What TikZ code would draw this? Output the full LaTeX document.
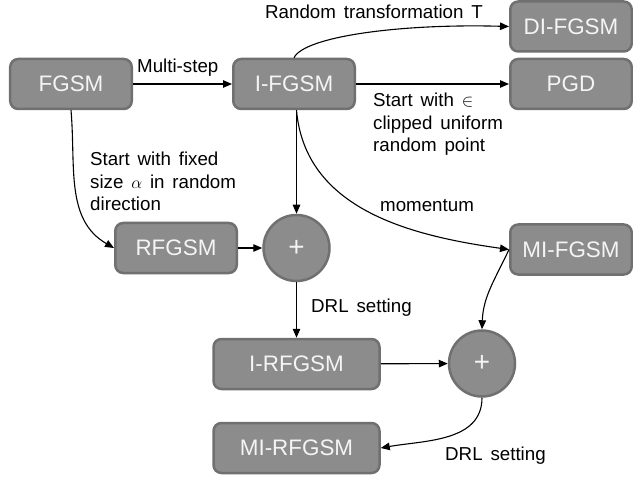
\documentclass[tikz,border=0pt]{standalone}
\usepackage{fontspec}
\setmainfont{Liberation Sans}
\usetikzlibrary{arrows.meta}
\definecolor{boxfill}{HTML}{8C8C8C}
\definecolor{boxedge}{HTML}{707070}
\definecolor{boxtext}{HTML}{F4F4F4}
\newcommand\notefont{\fontsize{18.8}{23}\selectfont\spaceskip=0.42em plus 0.1em\relax}

\begin{document}
\begin{tikzpicture}[x=1bp,y=-1bp,
  method/.style={draw=boxedge, line width=2.5bp, fill=boxfill, rounded corners=8bp,
    minimum width=#1, minimum height=50bp, inner sep=0pt, text=boxtext,
    font=\fontsize{22.5}{24}\selectfont},
  method/.default=121.5bp,
  merge/.style={circle, draw=boxedge, line width=2.5bp, fill=boxfill,
    minimum size=66bp, inner sep=0pt, text=boxtext, font=\fontsize{28}{30}\selectfont},
  link/.style={line width=1.1bp, -{Triangle[length=9bp,width=7.5bp]}},
  note/.style={font=\notefont, inner sep=0pt, align=left, anchor=base west}
]
\fill[white] (0,0) rectangle (633,483);
\useasboundingbox (0,0) rectangle (633,483);

% methods
\node[method] (fgsm)    at (71,84)    {FGSM};
\node[method] (ifgsm)   at (294,84)   {I-FGSM};
\node[method] (difgsm)  at (571,26.5) {DI-FGSM};
\node[method] (pgd)     at (571,84)   {PGD};
\node[method] (mifgsm)  at (571,249.5) {MI-FGSM};
\node[method] (rfgsm)   at (176,248)  {RFGSM};
\node[merge]  (plusA)   at (296.5,248) {+};
\node[method=166bp] (irfgsm)  at (296.5,364) {I-RFGSM};
\node[merge]  (plusB)   at (482,363.5) {+};
\node[method=166bp] (mirfgsm) at (296.5,448) {MI-RFGSM};

% connectors
\draw[link] (fgsm) -- (ifgsm);
\draw[link] (ifgsm.north) .. controls +(10,-21) and +(-110,-3) .. (difgsm.west);
\draw[link] (ifgsm) -- (pgd);
\draw[link] (ifgsm.south -| plusA) -- (plusA.north);
\draw[link] (ifgsm.south -| plusA) to[out=-85,in=172] (mifgsm.west);
\draw[link] (fgsm.south) to[out=-85,in=150] (rfgsm.west);
\draw[link] (rfgsm) -- (plusA);
\draw[link] (plusA) -- (irfgsm);
\draw[link] (mifgsm.west) to[out=-115,in=88] (plusB.north);
\draw[link] (irfgsm) -- (plusB);
\draw[link] (plusB.south) to[out=-90,in=10] (mirfgsm.east);

% labels (multi-line ones are placed by their last baseline)
\node[note] (lmulti) at (137,73)  {Multi-step};
\node[note] (lrand)  at (265,19)  {Random transformation T};
\node[note] (lpgd)   at (373,152) {Start with $\in$\\clipped uniform\\random point};
\node[note] (lrf)    at (90,211)  {Start with fixed\\size $\alpha$ in random\\direction};
\node[note] (lmom)   at (380,212) {momentum};
\node[note] (ldrlA)  at (311,312) {DRL setting};
\node[note] (ldrlB)  at (445,460) {DRL setting};
\end{tikzpicture}
\end{document}
